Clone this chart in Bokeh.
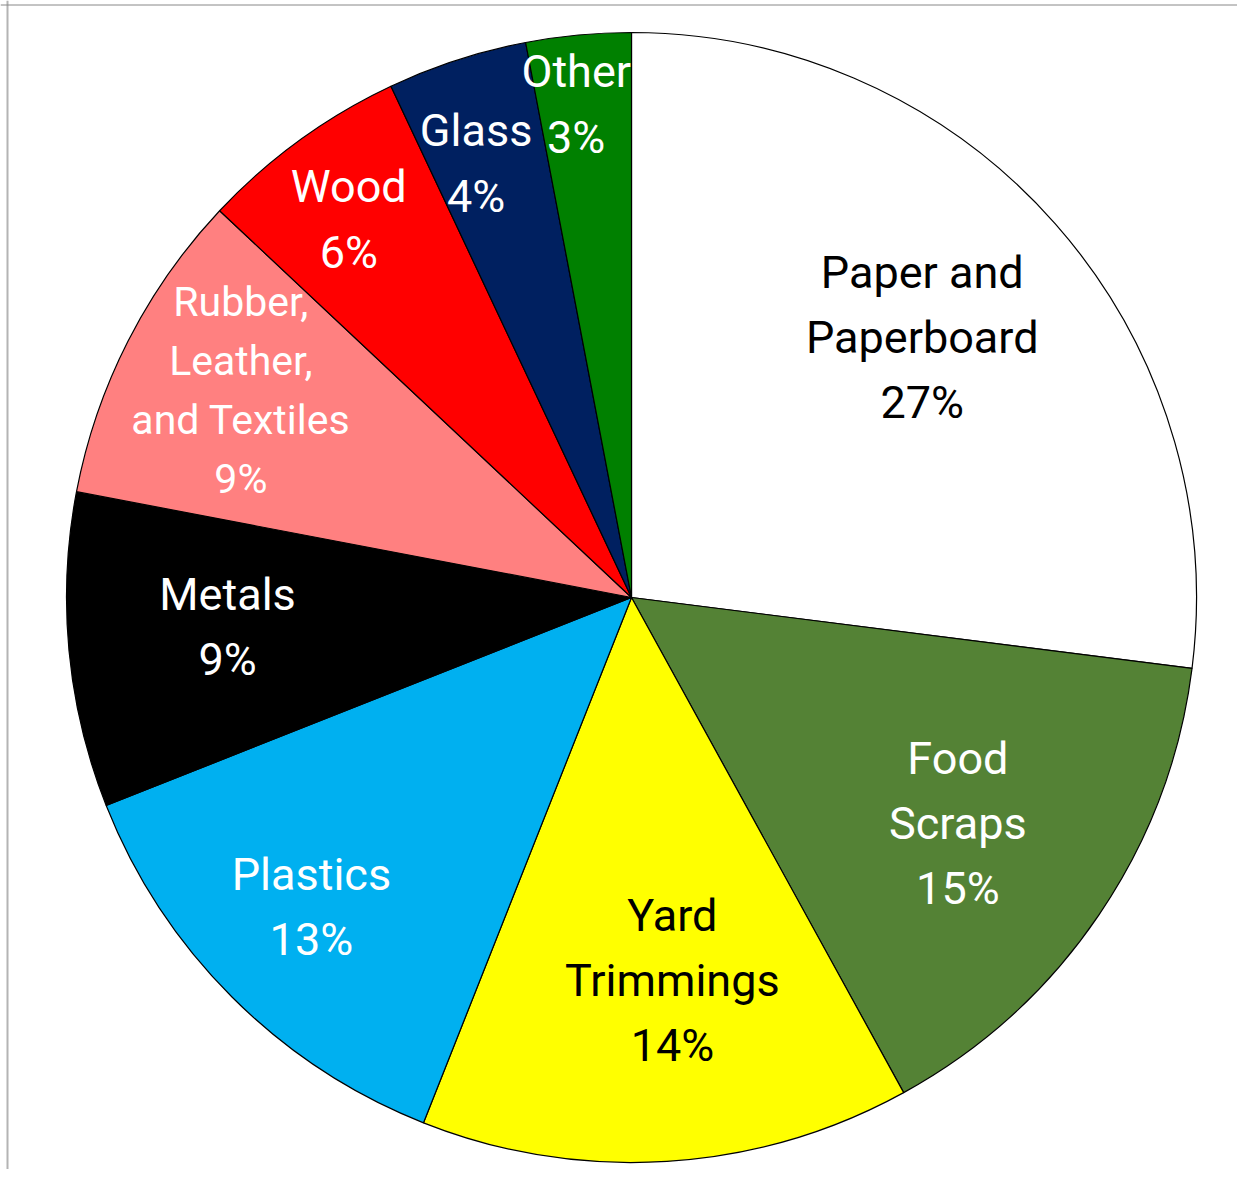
import math
from bokeh.plotting import figure
from bokeh.models import ColumnDataSource, Range1d, Span
from bokeh.core.properties import value
from bokeh.embed import file_html
from bokeh.resources import INLINE

# ---- data ----
categories = ["Paper and\nPaperboard", "Food\nScraps", "Yard\nTrimmings", "Plastics",
              "Metals", "Rubber,\nLeather,\nand Textiles", "Wood", "Glass", "Other"]
percents = [27, 15, 14, 13, 9, 9, 6, 4, 3]
colors = ["#FFFFFF", "#548235", "#FFFF00", "#00B0F0", "#000000",
          "#FF8080", "#FF0000", "#002060", "#008000"]
label_colors = ["#000000", "#FFFFFF", "#000000", "#FFFFFF", "#FFFFFF",
                "#FFFFFF", "#FFFFFF", "#FFFFFF", "#FFFFFF"]

# ---- layout ----
W, H = 1237, 1169
CX, CY, R = 631, H - 597, 565
label_radius = [390, 397, 385, 445, 405, 442, 472, 461, 496]
label_nudge_deg = [-0.4, 0.5, -2.5, 1.0, 1.2, 0.9, -0.8, -1.7, -1.0]
label_sizes = ["45px", "45px", "45px", "45px", "45px", "41px", "45px", "45px", "45px"]

total = float(sum(percents))
starts, ends, lx, ly, texts = [], [], [], [], []
cum = 0.0
for i, v in enumerate(percents):
    a0 = math.pi / 2 - 2 * math.pi * cum / total
    a1 = math.pi / 2 - 2 * math.pi * (cum + v) / total
    starts.append(a0)
    ends.append(a1)
    mid = (cum + v / 2) / total * 360 + label_nudge_deg[i]
    th = math.radians(mid)
    lx.append(CX + label_radius[i] * math.sin(th))
    ly.append(CY + label_radius[i] * math.cos(th))
    texts.append(f"{categories[i]}\n{v}%")
    cum += v

src = ColumnDataSource(dict(start=starts, end=ends, color=colors))
lab = ColumnDataSource(dict(x=lx, y=ly, text=texts, color=label_colors, size=label_sizes))

p = figure(width=W, height=H, output_backend="svg", toolbar_location=None,
           x_range=Range1d(0, W), y_range=Range1d(0, H), min_border=0)
p.axis.visible = False
p.grid.visible = False
p.outline_line_color = None
p.background_fill_color = "white"

p.wedge(x=CX, y=CY, radius=R, start_angle="start", end_angle="end", direction="clock",
        fill_color="color", line_color="black", line_width=1.2, source=src)

p.text(x="x", y="y", text="text", source=lab, text_color="color",
       text_font=value("Roboto"), text_font_size="size", text_align="center",
       text_baseline="middle", text_line_height=1.23)

p.add_layout(Span(location=7, dimension="height", line_color="#B4B4B4", line_width=2))
p.add_layout(Span(location=H - 4.5, dimension="width", line_color="#888888", line_width=1))

open("out.html", "w").write(file_html(p, INLINE))
